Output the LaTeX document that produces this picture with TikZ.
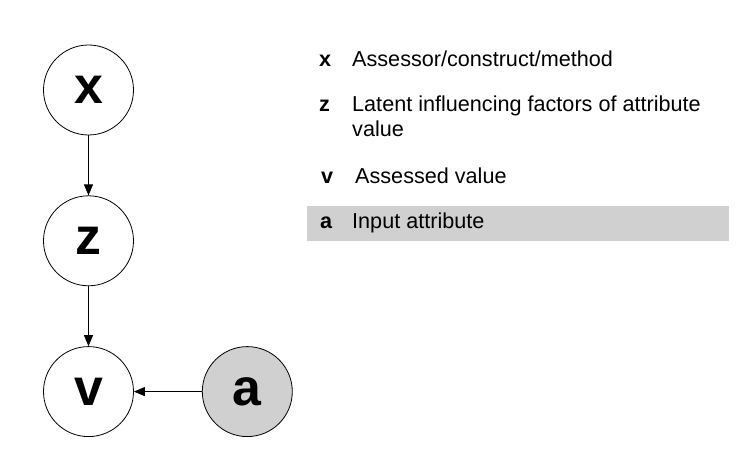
\documentclass[tikz,border=0pt]{standalone}
\usepackage{fontspec}
\setmainfont{Liberation Sans}
\usetikzlibrary{arrows.meta,positioning}
\definecolor{keygray}{RGB}{208,208,208}
\begin{document}
\begin{tikzpicture}[
  x=1bp, y=1bp,
  node distance=60bp and 68bp,
  var/.style={draw, circle, minimum size=90bp, inner sep=0pt, line width=0.8bp, font=\fontsize{52}{52}\selectfont\bfseries},
  obs/.style={var, fill=keygray},
  key/.style={anchor=base west, inner sep=0pt, font=\fontsize{21.7}{25}\selectfont\bfseries},
  desc/.style={anchor=base west, inner sep=0pt, align=left, font=\fontsize{21.7}{25}\selectfont},
  arr/.style={-{Triangle[length=11bp,width=9bp]}, line width=0.8bp}
]
\useasboundingbox (0,0) rectangle (748,454);

% graph
\node[var] (x) at (88.5,364) {x};
\node[var, below=of x] (z) {z};
\node[var, below=of z] (v) {v};
\node[obs, right=of v] (a) {a};
\draw[arr] (x) -- (z);
\draw[arr] (z) -- (v);
\draw[arr] (a) -- (v);

% legend
\fill[keygray] (307,213) rectangle (729,248);
\node[key] (lx) at (319,387.3) {x};
\node[desc] (tx) at (352,387.3) {Assessor/construct/method};
\node[key] (lz) at (319,342.3) {z};
\node[desc] (tz) at (352,317.3) {Latent influencing factors of attribute\\value};
\node[key] (lv) at (321,270.7) {v};
\node[desc] (tv) at (355,270.7) {Assessed value};
\node[key] (la) at (320,225.7) {a};
\node[desc] (ta) at (352,225.7) {Input attribute};
\end{tikzpicture}
\end{document}
